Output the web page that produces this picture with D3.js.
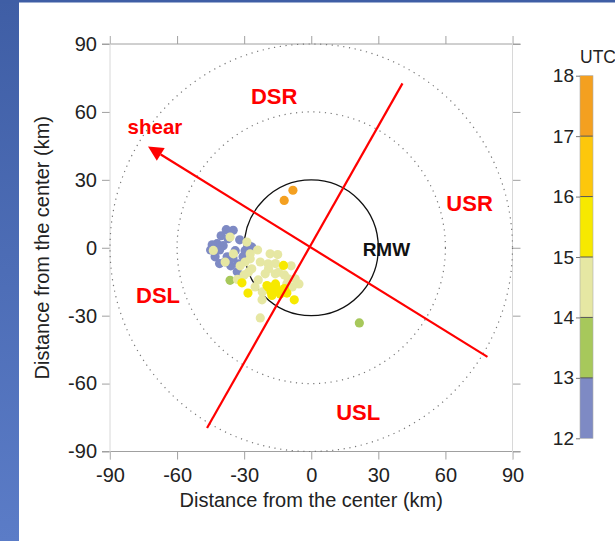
<!DOCTYPE html>
<html><head><meta charset="utf-8">
<script src="https://cdn.jsdelivr.net/npm/d3@7"></script>
<style>body{margin:0;background:#fff}svg{display:block;font-family:"Liberation Sans",Arial,sans-serif}</style>
</head><body><svg id="c" width="615" height="541"></svg>
<script>
// ---- data ----
const xTicks = [-90, -60, -30, 0, 30, 60, 90];
const yTicks = [-90, -60, -30, 0, 30, 60, 90];
const utcTicks = [12, 13, 14, 15, 16, 17, 18];
const utcColors = ["#7e8ac4", "#a7c85b", "#e6e7a3", "#f7e900", "#fdc70c", "#f4a020"];
const ringRadii = [60, 90];
const rmwRadius = 30;
const shearLine = [[78.8, -48.2], [-73, 44.7]];
const crossLine = [[-46.6, -79.6], [40.8, 72.6]];
const regionLabels = ["DSR", "USR", "DSL", "USL"];
const regionX = [-16.6, 70.8, -68.5, 21.0];
const regionY = [63.3, 16.4, -24.3, -76.1];
const shearLabel = {text: "shear", x: -69.9, y: 50.4};
const rmwLabel = {text: "RMW", x: 33.6, y: -3.5};
// observation points: x (km), y (km), UTC hour
const pointX = [
 -34.9,-37.2,-42.1,-39.4,-34.0,-43.0,-37.6,-32.7,-33.1,-26.6,-29.6,-44.3,-38.5,-40.3,-32.0,-36.0,-41.0,-35.0,-45.0,-38.0,-30.5,-41.0,-28.0,
 -36.3, 21.5,
 -36.3,-28.8,-43.8,-34.8,-38.5,-27.3,-29.6,-26.6,-27.3,-22.8,-19.1,-28.1,-16.1,-10.3,-22.8,-20.6,-14.6,-10.9,-23.7,-25.1,-18.4,-19.3,-31.8,-21.9,-8.5,-7.2,
 -15.0,-12.0,-5.5,-24.0,-30.0,-33.0,-22.0,-16.0,-9.0,
 -12.4,-31.0,-28.3,-19.1,-17.0,-17.6,-10.9,-7.6,-19.8,-15.7,-13.9,-18.0,-15.0,-16.0,-12.0,
 -8.2,-12.1];
const pointY = [
 7.7,4.0,1.8,0.9,-1.3,-4.0,-4.0,-7.1,-10.6,0.3,-1.3,1.3,-6.2,5.3,3.5,-8.0,-1.0,-4.5,-1.0,8.0,-4.0,-7.0,1.0,
 -14.4,-33.2,
 4.7,2.5,-1.2,-2.7,-6.3,-2.7,-6.3,-9.3,-4.9,-6.3,-9.3,-10.8,-11.5,-13.7,-31.0,-11.5,-10.8,-15.9,-14.2,-17.3,-2.7,-7.1,-8.0,-19.5,-17.3,-13.7,
 -3.0,-12.0,-16.0,-1.0,-12.0,-14.0,-23.0,-7.0,-8.0,
 -7.8,-15.5,-20.0,-17.4,-18.9,-21.1,-20.0,-23.0,-16.7,-17.7,-20.4,-19.5,-19.0,-16.0,-18.0,
 25.4,20.9];
const pointUTC = [
 12.5,12.5,12.5,12.5,12.5,12.5,12.5,12.5,12.5,12.5,12.5,12.5,12.5,12.5,12.5,12.5,12.5,12.5,12.5,12.5,12.5,12.5,12.5,
 13.5,13.5,
 14.5,14.5,14.5,14.5,14.5,14.5,14.5,14.5,14.5,14.5,14.5,14.5,14.5,14.5,14.5,14.5,14.5,14.5,14.5,14.5,14.5,14.5,14.5,14.5,14.5,14.5,
 14.5,14.5,14.5,14.5,14.5,14.5,14.5,14.5,14.5,
 15.5,15.5,15.5,15.5,15.5,15.5,15.5,15.5,15.5,15.5,15.5,15.5,15.5,15.5,15.5,
 17.5,17.5];

// ---- drawing ----
const svg = d3.select("#c");
const grad = svg.append("defs").append("linearGradient").attr("id","bg").attr("x1",0).attr("y1",0).attr("x2",0).attr("y2",1);
grad.append("stop").attr("offset","0%").attr("stop-color","#3f5ea5");
grad.append("stop").attr("offset","100%").attr("stop-color","#5b7cc7");
svg.append("rect").attr("x",0).attr("y",0).attr("width",615).attr("height",541).attr("fill","#fff");
svg.append("rect").attr("x",0).attr("y",0).attr("width",19).attr("height",541).attr("fill","url(#bg)");
svg.append("rect").attr("x",0).attr("y",0).attr("width",615).attr("height",2.5).attr("fill","#3f5ea5");

const x = d3.scaleLinear().domain([-90, 90]).range([110, 512.5]);
const y = d3.scaleLinear().domain([-90, 90]).range([451.5, 44]);
const kx = x(1) - x(0), ky = y(0) - y(1);

const axisColor = "#a0a0a0";
const fmt = d => String(d);
const g = svg.append("g");
function styleAxis(sel) {
  sel.select(".domain").remove();
  sel.selectAll(".tick line").attr("stroke", axisColor);
  sel.selectAll(".tick text").attr("fill", "#222").style("font-size", "20px").style("font-family", '"Liberation Sans",Arial,sans-serif');
}
g.append("g").attr("transform", `translate(0,${y(-90)})`)
  .call(d3.axisBottom(x).tickValues(xTicks).tickSize(8).tickPadding(8).tickFormat(fmt)).call(styleAxis);
g.append("g").attr("transform", `translate(0,${y(90)})`)
  .call(d3.axisTop(x).tickValues(xTicks).tickSize(8).tickFormat("")).call(styleAxis);
g.append("g").attr("transform", `translate(${x(-90)},0)`)
  .call(d3.axisLeft(y).tickValues(yTicks).tickSize(8).tickPadding(5).tickFormat(fmt)).call(styleAxis);
g.append("g").attr("transform", `translate(${x(90)},0)`)
  .call(d3.axisRight(y).tickValues(yTicks).tickSize(8).tickFormat("")).call(styleAxis);
g.append("line").attr("x1", x(-90)-8).attr("x2", x(90)+8).attr("y1", y(90)).attr("y2", y(90)).attr("stroke", axisColor);
g.append("line").attr("x1", x(-90)-8).attr("x2", x(90)+8).attr("y1", y(-90)).attr("y2", y(-90)).attr("stroke", axisColor);
g.append("line").attr("x1", x(-90)).attr("x2", x(-90)).attr("y1", y(90)-8).attr("y2", y(-90)+8).attr("stroke", "#d8d8d8");
g.append("line").attr("x1", x(90)).attr("x2", x(90)).attr("y1", y(90)-8).attr("y2", y(-90)+8).attr("stroke", "#d8d8d8");

svg.append("text").attr("x", x(0)).attr("y", 507).attr("text-anchor", "middle")
  .style("font-size", "20px").attr("fill", "#222").text("Distance from the center (km)");
svg.append("text").attr("transform", `translate(49,${y(0)}) rotate(-90)`).attr("text-anchor", "middle")
  .style("font-size", "20px").attr("fill", "#222").text("Distance from the center (km)");

g.selectAll(".ring").data(ringRadii).join("ellipse").attr("class", "ring")
  .attr("cx", x(0)).attr("cy", y(0)).attr("rx", d => d * kx).attr("ry", d => d * ky)
  .attr("fill", "none").attr("stroke", "#777").attr("stroke-width", 1.2).attr("stroke-dasharray", "1.2,4.6");
g.append("ellipse").attr("cx", x(0)).attr("cy", y(0)).attr("rx", rmwRadius * kx).attr("ry", rmwRadius * ky)
  .attr("fill", "none").attr("stroke", "#111").attr("stroke-width", 1.3);

const color = d3.scaleThreshold().domain(utcTicks.slice(1, -1)).range(utcColors);
const pts = pointX.map((v, i) => ({x: v, y: pointY[i], t: pointUTC[i]}));
g.selectAll(".pt").data(pts).join("circle").attr("class", "pt")
  .attr("cx", d => x(d.x)).attr("cy", d => y(d.y)).attr("r", 4.6).attr("fill", d => color(d.t));

const line = d3.line().x(d => x(d[0])).y(d => y(d[1]));
g.append("path").attr("d", line(crossLine)).attr("stroke", "#f00").attr("stroke-width", 2.2).attr("fill", "none");
const tip = [x(shearLine[1][0]), y(shearLine[1][1])];
const tail = [x(shearLine[0][0]), y(shearLine[0][1])];
const ang = Math.atan2(tip[1] - tail[1], tip[0] - tail[0]);
const hl = 15, hw = 7.5;
const base = [tip[0] - hl * Math.cos(ang), tip[1] - hl * Math.sin(ang)];
g.append("path").attr("d", d3.line()([tail, base])).attr("stroke", "#f00").attr("stroke-width", 2.2).attr("fill", "none");
g.append("path").attr("d", d3.line()([tip,
   [base[0] + hw * Math.sin(ang), base[1] - hw * Math.cos(ang)],
   [base[0] - hw * Math.sin(ang), base[1] + hw * Math.cos(ang)]]) + "Z").attr("fill", "#f00");

g.selectAll(".rl").data(regionLabels).join("text").attr("class", "rl")
  .attr("x", (d, i) => x(regionX[i])).attr("y", (d, i) => y(regionY[i])).attr("text-anchor", "middle")
  .style("font-size", "22px").style("font-weight", "bold").attr("fill", "#f00").text(d => d);
g.append("text").attr("x", x(shearLabel.x)).attr("y", y(shearLabel.y)).attr("text-anchor", "middle")
  .style("font-size", "20.5px").style("font-weight", "bold").attr("fill", "#f00").text(shearLabel.text);
g.append("text").attr("x", x(rmwLabel.x)).attr("y", y(rmwLabel.y)).attr("text-anchor", "middle")
  .style("font-size", "19px").style("font-weight", "bold").attr("fill", "#111").text(rmwLabel.text);

const cy = d3.scaleLinear().domain([12, 18]).range([438.3, 75.7]);
const cb = svg.append("g");
const cbx = 580, cbw = 13;
cb.selectAll("rect").data(utcColors).join("rect")
  .attr("x", cbx).attr("width", cbw)
  .attr("y", (d, i) => cy(utcTicks[i + 1])).attr("height", (d, i) => cy(utcTicks[i]) - cy(utcTicks[i + 1]))
  .attr("fill", d => d);
cb.selectAll(".sep").data(utcTicks.slice(1, -1)).join("line").attr("class", "sep")
  .attr("x1", cbx).attr("x2", cbx + cbw).attr("y1", d => cy(d)).attr("y2", d => cy(d))
  .attr("stroke", "#555").attr("stroke-width", 1);
cb.append("rect").attr("x", cbx).attr("y", cy(18)).attr("width", cbw).attr("height", cy(12) - cy(18))
  .attr("fill", "none").attr("stroke", "#aaa").attr("stroke-width", 0.6);
const cax = cb.append("g").attr("transform", `translate(${cbx},0)`)
  .call(d3.axisLeft(cy).tickValues(utcTicks).tickSize(4).tickPadding(2).tickFormat(fmt));
cax.select(".domain").remove();
cax.selectAll(".tick line").attr("stroke", "#777");
cax.selectAll(".tick text").attr("fill", "#222").style("font-size", "19px").style("font-family", '"Liberation Sans",Arial,sans-serif');
cb.append("text").attr("x", 580).attr("y", 63).style("font-size", "17.5px").attr("fill", "#222").text("UTC");
</script></body></html>
